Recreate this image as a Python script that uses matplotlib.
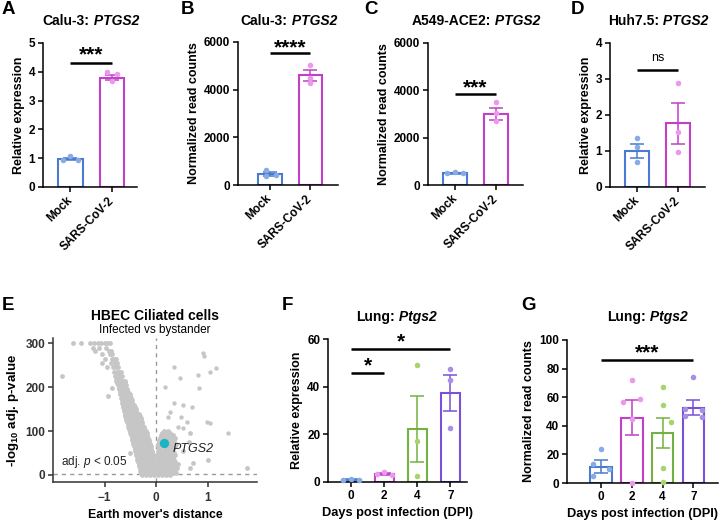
import numpy as np
import matplotlib
matplotlib.use('Agg')
import matplotlib.pyplot as plt

plt.rcParams['font.family'] = ['Liberation Sans', 'DejaVu Sans']
plt.rcParams['mathtext.fontset'] = 'custom'
plt.rcParams['mathtext.rm'] = 'Liberation Sans:bold'
plt.rcParams['mathtext.it'] = 'Liberation Sans:italic'
plt.rcParams['axes.linewidth'] = 1.1

W, H = 720, 523

# ---- data ----
groups_2 = ['Mock', 'SARS-CoV-2']
days = ['0', '2', '4', '7']

a_means = [0.97, 3.80]
a_sems = [0.04, 0.10]
a_pts = [[0.95, 1.08, 0.94], [3.98, 3.92, 3.68]]

b_means = [450, 4600]
b_sems = [80, 230]
b_pts = [[630, 380, 430], [5035, 4495, 4270]]

c_means = [500, 3000]
c_sems = [25, 250]
c_pts = [[500, 560, 520], [3520, 3030, 2717]]

d_means = [1.00, 1.77]
d_sems = [0.19, 0.57]
d_pts = [[1.35, 1.12, 0.69], [2.88, 1.52, 0.98]]

f_means = [1.0, 3.3, 22.3, 37.3]
f_sems = [0.15, 0.45, 13.7, 7.7]
f_pts = [[0.8, 1.3, 0.9], [3.4, 4.3, 2.9], [49.0, 17.3, 2.5], [47.3, 43.0, 22.5]]

g_means = [11.5, 45.6, 35.0, 52.5]
g_sems = [4.7, 12.3, 10.8, 5.2]
g_pts = [[23.5, 13.0, 9.5, 5.0],
         [72.0, 56.5, 59.0, 45.0, 0.0],
         [67.0, 54.5, 43.0, 10.5, 0.5],
         [74.0, 52.0, 51.0, 47.0, 46.5]]

# volcano: rows of (-log10 adj p, [earth mover's distance values])
volc_rows = [
    (300, [-1.61, -1.45, -1.28, -1.2, -1.12, -1.06, -1.0, -0.95, -0.9]),
    (290, [-1.22, -1.1, -0.97]),
    (282, [-1.18, -0.92, -0.88]),
    (275, [-1.05, -0.9, -0.85]),
    (265, [-1.0, -0.86, -0.82, -0.78]),
    (255, [-1.05, -0.88, -0.8, -0.76]),
    (245, [-0.95, -0.84, -0.78, -0.74]),
    (235, [-0.82, -0.76, -0.72, -0.68]),
    (225, [-1.83, -0.8, -0.74, -0.7, -0.66]),
    (220, [-0.78, -0.69]),
    (215, [-0.77, -0.72, -0.68, -0.64, -0.6]),
    (210, [-0.75, -0.66, -0.61]),
    (205, [-0.74, -0.7, -0.66, -0.62, -0.58]),
    (198, [-0.85, -0.71, -0.61]),
    (195, [-0.72, -0.68, -0.64, -0.6, -0.56]),
    (190, [-0.7, -0.62, -0.55]),
    (185, [-0.7, -0.66, -0.62, -0.58, -0.54, -0.5]),
    (180, [-0.93, -0.67, -0.57, -0.5]),
    (175, [-0.68, -0.64, -0.6, -0.56, -0.52, -0.48]),
    (170, [-0.66, -0.58, -0.5, -0.46]),
    (165, [-0.66, -0.62, -0.58, -0.54, -0.5, -0.46]),
    (160, [-0.64, -0.56, -0.48, -0.42]),
    (155, [-0.64, -0.6, -0.56, -0.52, -0.48, -0.44, -0.4]),
    (150, [-0.62, -0.54, -0.46, -0.38]),
    (145, [-0.62, -0.58, -0.54, -0.5, -0.46, -0.42, -0.38]),
    (140, [-0.6, -0.52, -0.44, -0.36, -0.33]),
    (135, [-0.6, -0.56, -0.52, -0.48, -0.44, -0.4, -0.36, -0.32]),
    (130, [-0.58, -0.5, -0.42, -0.34, -0.3]),
    (125, [-0.58, -0.54, -0.5, -0.46, -0.42, -0.38, -0.34, -0.3]),
    (120, [-0.56, -0.48, -0.4, -0.32, -0.27]),
    (115, [-0.55, -0.51, -0.47, -0.43, -0.39, -0.35, -0.31, -0.27]),
    (110, [-0.54, -0.46, -0.38, -0.3, -0.24]),
    (105, [-0.52, -0.48, -0.44, -0.4, -0.36, -0.32, -0.28, -0.24]),
    (100, [-0.5, -0.42, -0.34, -0.26, -0.2, 0.16, 0.24]),
    (95, [-0.5, -0.46, -0.42, -0.38, -0.34, -0.3, -0.26, -0.22, -0.18, 0.12, 0.2, 0.28, 0.66]),
    (90, [-0.48, -0.4, -0.32, -0.24, -0.17, 0.1, 0.18, 0.26, 0.33]),
    (85, [-0.47, -0.43, -0.39, -0.35, -0.31, -0.27, -0.23, -0.19, -0.15, 0.08, 0.15, 0.22, 0.3, 0.36]),
    (80, [-0.46, -0.38, -0.3, -0.22, -0.14, 0.06, 0.13, 0.24, 0.34]),
    (75, [-0.45, -0.41, -0.37, -0.33, -0.29, -0.25, -0.21, -0.17, -0.13, 0.05, 0.1, 0.2, 0.26, 0.32, 0.64]),
    (70, [-0.44, -0.36, -0.28, -0.2, -0.12, 0.03, 0.22, 0.28, 0.38]),
    (65, [-0.42, -0.38, -0.34, -0.3, -0.26, -0.22, -0.18, -0.14, -0.1, 0.04, 0.08, 0.12, 0.2, 0.25, 0.3, 0.36]),
    (60, [-0.41, -0.33, -0.25, -0.17, -0.09, 0.05, 0.17, 0.24, 0.33]),
    (55, [-0.4, -0.36, -0.32, -0.28, -0.24, -0.2, -0.16, -0.12, -0.08, 0.03, 0.07, 0.11, 0.15, 0.19, 0.23, 0.27, 0.31, 0.52]),
    (50, [-0.5, -0.39, -0.31, -0.23, -0.15, -0.07, 0.04, 0.12, 0.2, 0.28, 0.35]),
    (45, [-0.38, -0.34, -0.3, -0.26, -0.22, -0.18, -0.14, -0.1, -0.06, 0.02, 0.06, 0.1, 0.14, 0.18, 0.22, 0.26, 0.3, 0.36]),
    (40, [-0.37, -0.29, -0.21, -0.13, -0.05, 0.04, 0.12, 0.2, 0.28, 0.33]),
    (35, [-0.36, -0.32, -0.28, -0.24, -0.2, -0.16, -0.12, -0.08, -0.04, 0.02, 0.06, 0.1, 0.14, 0.18, 0.22, 0.26, 0.3, 0.34, 1.01]),
    (30, [-0.35, -0.27, -0.19, -0.11, -0.03, 0.04, 0.12, 0.2, 0.28, 0.37]),
    (28, [0.72]),
    (25, [-0.34, -0.3, -0.26, -0.22, -0.18, -0.14, -0.1, -0.06, -0.02, 0.02, 0.06, 0.1, 0.14, 0.18, 0.22, 0.26, 0.3, 0.35, 0.42]),
    (20, [-0.33, -0.25, -0.17, -0.09, -0.01, 0.04, 0.12, 0.2, 0.28, 0.36]),
    (16, [0.66, 1.77]),
    (15, [-0.32, -0.28, -0.24, -0.2, -0.16, -0.12, -0.08, -0.04, 0.0, 0.02, 0.06, 0.1, 0.14, 0.18, 0.22, 0.26, 0.3, 0.34, 0.4]),
    (10, [-0.31, -0.23, -0.15, -0.07, 0.0, 0.06, 0.14, 0.22, 0.3, 0.37]),
    (5, [-0.3, -0.26, -0.22, -0.18, -0.14, -0.1, -0.06, -0.02, 0.02, 0.04, 0.08, 0.12, 0.16, 0.2, 0.24, 0.28, 0.32, 0.38]),
    (1, [-0.28, -0.2, -0.12, -0.04, 0.04, 0.12, 0.2, 0.28]),
]
volc_extra_x = [0.92, 0.93, 0.35, 0.47, 0.82, 1.05, 1.17, 0.84, 0.17, 0.52, 0.69, 0.24, 0.48,
                0.99, 1.05, 1.40, 0.52, 0.35, 0.27, 0.6, 0.42]
volc_extra_y = [278, 270, 245, 220, 227, 234, 243, 198, 200, 160, 155, 132, 132,
                120, 118, 95, 107, 164, 143, 120, 110]
ptgs2_x, ptgs2_y = 0.15, 72

# colours
blue, blue_dot = '#4a7bd0', '#86abe6'
mag, mag_dot = '#c040c8', '#ec98ee'
green, green_dot = '#74b143', '#a8d46e'
purple, purple_dot = '#7a50d6', '#a78ee6'

fig = plt.figure(figsize=(W / 100, H / 100), dpi=100)


def add_ax(x0, y0, x1, y1):
    return fig.add_axes([x0 / W, 1 - y1 / H, (x1 - x0) / W, (y1 - y0) / H])


def style(ax, color='black'):
    for s in ['top', 'right']:
        ax.spines[s].set_visible(False)
    for s in ['left', 'bottom']:
        ax.spines[s].set_color(color)
    ax.tick_params(width=1.1, length=3.5, labelsize=8.5, pad=2, colors=color)
    for lab in ax.get_xticklabels() + ax.get_yticklabels():
        lab.set_fontweight('bold')


def draw_bars(ax, means, sems, pts, offs, cols, dots, width):
    for i in range(len(means)):
        ax.bar(i, means[i], width=width, facecolor='white', edgecolor=cols[i],
               linewidth=1.5, zorder=2)
        ax.errorbar(i, means[i], yerr=sems[i], color=cols[i], capsize=5,
                    elinewidth=1.1, capthick=1.1, zorder=3)
        ax.scatter(np.array(offs[i]) + i, pts[i], s=16, color=dots[i],
                   linewidths=0, zorder=4, clip_on=False)


def sig(ax, x0, x1, y, ytxt, txt, size=15, weight='bold'):
    ax.plot([x0, x1], [y, y], color='black', lw=1.8, solid_capstyle='butt', clip_on=False)
    ax.text((x0 + x1) / 2, ytxt, txt, ha='center', va='center', fontsize=size,
            fontweight=weight)


def two_part_title(xc, yc, plain, ital, size=10):
    r = fig.canvas.get_renderer()
    t1 = fig.text(0, 0, plain, fontsize=size, fontweight='bold', va='center')
    t2 = fig.text(0, 0, ital, fontsize=size, fontweight='bold', fontstyle='italic', va='center')
    w1 = t1.get_window_extent(r).width
    w2 = t2.get_window_extent(r).width
    x0 = xc - (w1 + w2) / 2
    t1.set_position((x0 / W, 1 - yc / H))
    t2.set_position(((x0 + w1) / W, 1 - yc / H))


def letter(x, y, s):
    fig.text(x / W, 1 - y / H, s, fontsize=13.5, fontweight='bold', va='center', ha='left')


def two_group_panel(rect, means, sems, pts, offs, ylim, yticks, ylabel, xl):
    ax = add_ax(*rect)
    draw_bars(ax, means, sems, pts, offs, [blue, mag], [blue_dot, mag_dot], 0.59)
    ax.set_xlim(*xl)
    ax.set_ylim(*ylim)
    ax.set_yticks(yticks)
    ax.set_xticks([0, 1])
    ax.set_xticklabels(groups_2, rotation=45, ha='right', va='center',
                       rotation_mode='anchor')
    ax.set_ylabel(ylabel, fontsize=9, fontweight='bold', labelpad=3)
    style(ax)
    ax.tick_params(axis='x', pad=5)
    return ax


# A
axA = two_group_panel((43, 43, 137, 187), a_means, a_sems, a_pts,
                      [[-0.17, 0, 0.17], [-0.12, 0.12, 0]], (0, 5), range(6),
                      'Relative expression', (-0.66, 1.6))
sig(axA, 0, 1, 4.32, 4.58, '***')
two_part_title(91, 21, 'Calu-3:', ' PTGS2')
letter(2, 10, 'A')

# B
axB = two_group_panel((238, 42, 338, 185), b_means, b_sems, b_pts,
                      [[-0.1, -0.1, 0.15], [0, 0, 0]], (0, 6000), [0, 2000, 4000, 6000],
                      'Normalized read counts', (-0.79, 1.68))
sig(axB, 0, 1, 5530, 5770, '****')
two_part_title(289, 21, 'Calu-3:', ' PTGS2')
letter(181, 10, 'B')

# C
axC = two_group_panel((428, 43, 523, 185), c_means, c_sems, c_pts,
                      [[-0.2, 0, 0.2], [0, 0, 0]], (0, 6000), [0, 2000, 4000, 6000],
                      'Normalized read counts', (-0.66, 1.66))
sig(axC, 0, 1, 3830, 4110, '***')
two_part_title(476, 21, 'A549-ACE2:', ' PTGS2')
letter(364, 10, 'C')

# D
axD = two_group_panel((610, 43, 705, 187), d_means, d_sems, d_pts,
                      [[0, 0, 0], [0, 0, 0]], (0, 4), range(5),
                      'Relative expression', (-0.66, 1.66))
sig(axD, 0, 1, 3.25, 3.58, 'ns', size=9, weight='normal')
two_part_title(658, 21, 'Huh7.5:', ' PTGS2')
letter(571, 10, 'D')

# E volcano
axE = add_ax(53, 338, 257, 482)
vx = [x for y, row in volc_rows for x in row]
vy = [y for y, row in volc_rows for x in row]
axE.scatter(vx, vy, s=12, color='#c6c6c6', linewidths=0, zorder=2)
axE.scatter(volc_extra_x, volc_extra_y, s=10, color='#c6c6c6', linewidths=0, zorder=2)
axE.axvline(0, color='#999999', lw=1, ls=(0, (3, 3)), zorder=1)
axE.axhline(-np.log10(0.05), color='#999999', lw=1, ls=(0, (3, 3)), zorder=1)
axE.scatter([ptgs2_x], [ptgs2_y], s=45, color='#1ab5c0', linewidths=0, zorder=3)
axE.text(ptgs2_x + 0.17, ptgs2_y - 13, 'PTGS2', fontsize=9, fontstyle='italic',
         va='center', ha='left', color='#222222')
axE.text(-1.84, 30, 'adj. $p$ < 0.05', fontsize=8.5, va='center', ha='left', color='#222222')
axE.set_xlim(-2.0, 1.96)
axE.set_ylim(-16, 312)
axE.set_xticks([-1, 0, 1])
axE.set_yticks([0, 100, 200, 300])
axE.set_xlabel("Earth mover's distance", fontsize=8.8, fontweight='bold', labelpad=3)
axE.set_ylabel('-log$_{10}$ adj. p-value', fontsize=9.5, fontweight='bold', labelpad=3)
style(axE, color='#333333')
axE.tick_params(axis='x', pad=4)
fig.text(155 / W, 1 - 316 / H, 'HBEC Ciliated cells', fontsize=10, fontweight='bold',
         ha='center', va='center')
fig.text(155 / W, 1 - 330 / H, 'Infected vs bystander', fontsize=8.5,
         ha='center', va='center')
letter(2, 305, 'E')

# F
axF = add_ax(328, 339, 467, 482)
draw_bars(axF, f_means, f_sems, f_pts,
          [[-0.25, 0, 0.25], [-0.22, 0, 0.23], [0, 0, 0], [0, 0, 0]],
          [blue, mag, green, purple], [blue_dot, mag_dot, green_dot, purple_dot], 0.58)
axF.set_xlim(-0.7, 3.5)
axF.set_ylim(0, 60)
axF.set_yticks([0, 20, 40, 60])
axF.set_xticks(range(4))
axF.set_xticklabels(days)
axF.set_ylabel('Relative expression', fontsize=9, fontweight='bold', labelpad=3)
axF.set_xlabel('Days post infection (DPI)', fontsize=9.2, fontweight='bold', labelpad=4)
style(axF)
sig(axF, 0, 1, 45.7, 48.6, '*')
sig(axF, 0, 3, 55.8, 58.7, '*')
two_part_title(396, 317, 'Lung:', ' Ptgs2')
letter(282, 305, 'F')

# G
axG = add_ax(567, 340, 718, 483)
draw_bars(axG, g_means, g_sems, g_pts,
          [[0, -0.27, 0.27, -0.27], [0, -0.27, 0.27, 0, 0],
           [0, 0, 0.27, 0, 0], [0, -0.27, 0.27, -0.27, 0.27]],
          [blue, mag, green, purple], [blue_dot, mag_dot, green_dot, purple_dot], 0.7)
axG.set_xlim(-1.1, 3.8)
axG.set_ylim(0, 100)
axG.set_yticks(range(0, 101, 20))
axG.set_xticks(range(4))
axG.set_xticklabels(days)
axG.set_ylabel('Normalized read counts', fontsize=9, fontweight='bold', labelpad=3)
axG.set_xlabel('Days post infection (DPI)', fontsize=9.2, fontweight='bold', labelpad=4)
style(axG)
sig(axG, 0, 3, 86, 91, '***')
two_part_title(647, 317, 'Lung:', ' Ptgs2')
letter(521, 305, 'G')

fig.savefig('out.png', dpi=100)
